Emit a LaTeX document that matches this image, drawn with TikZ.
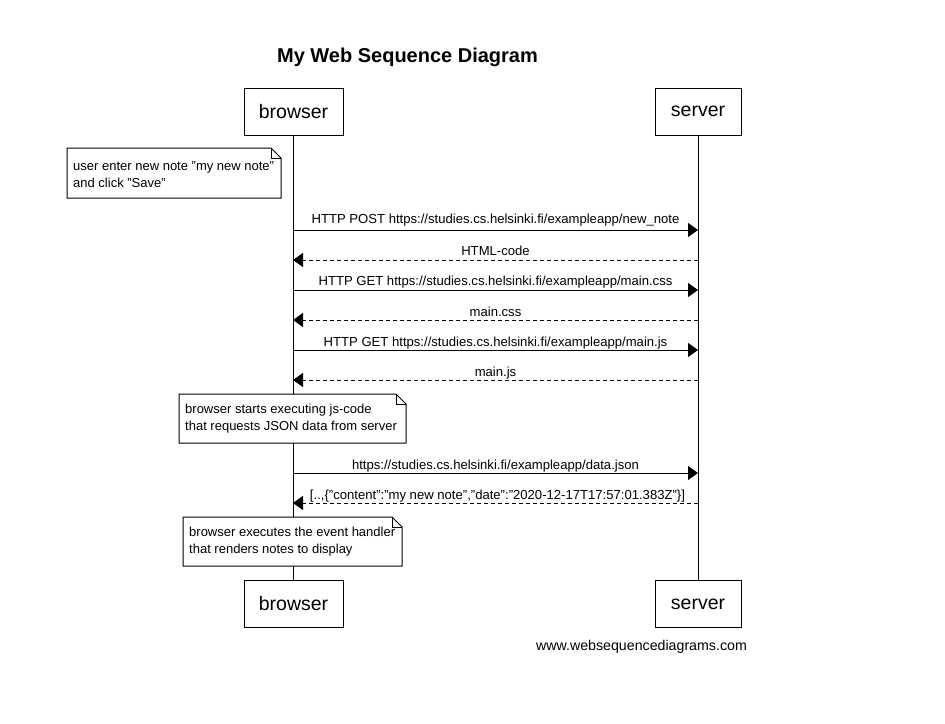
\documentclass[tikz,border=0pt]{standalone}
\usepackage{fontspec}
\setmainfont{Liberation Sans}
\usetikzlibrary{arrows.meta}
\newcommand\qd{\symbol{"22}}
\begin{document}
\begin{tikzpicture}[x=1pt,y=-1pt,
  actor/.style={draw,line width=1pt,minimum height=47pt,font=\fontsize{19.5}{22}\selectfont,inner sep=0pt},
  notebox/.style={inner xsep=6pt,inner ysep=0pt,align=left,anchor=west,font=\fontsize{13}{17}\selectfont},
  msglbl/.style={font=\fontsize{13.1}{15}\selectfont,inner sep=1pt},
  req/.style={line width=1pt,-{Triangle[length=10pt,width=14pt]}},
  resp/.style={line width=1pt,dash pattern=on 4pt off 3pt,-{Triangle[length=10pt,width=14pt]}},
  notepath/.style={draw,line width=1pt,fill=white}]
\useasboundingbox (0,0) rectangle (945,723);
\fill[white] (0,0) rectangle (945,723);

\node[font=\bfseries\fontsize{20}{23}\selectfont] (title) at (407.5,57) {My Web Sequence Diagram};

\node[actor,minimum width=99pt] (bt) at (293.5,111.5) {browser};
\node[actor,minimum width=86pt] (st) at (698,111.5) {server};
\node[actor,minimum width=99pt] (bb) at (293.5,604) {browser};
\node[actor,minimum width=86pt] (sb) at (698,604) {server};

\draw[line width=1pt] (bt.south) -- (bb.north);
\draw[line width=1pt] (st.south) -- (sb.north);

% note 1
\draw[notepath] (67,148) -- (271,148) -- (281,158) -- (281,198) -- (67,198) -- cycle;
\draw[line width=0.8pt] (271,148) -- (271,158) -- (281,158);
\node[notebox] (n1) at (67,175) {user enter new note \qd my new note\qd\\and click \qd Save\qd};

% messages
\foreach \i/\y in {1/230,2/260,3/290,4/320,5/350,6/380,7/473,8/503}{
  \coordinate (b\i) at (293,\y);
  \coordinate (s\i) at (698,\y);
}
\draw[req] (b1) -- (s1);
\node[msglbl] (m1) at (495.5,220) {HTTP POST https://studies.cs.helsinki.fi/exampleapp/new\_note};
\draw[resp] (s2) -- (b2);
\node[msglbl] (m2) at (495.5,251) {HTML-code};
\draw[req] (b3) -- (s3);
\node[msglbl] (m3) at (495.5,282) {HTTP GET https://studies.cs.helsinki.fi/exampleapp/main.css};
\draw[resp] (s4) -- (b4);
\node[msglbl] (m4) at (495.5,312) {main.css};
\draw[req] (b5) -- (s5);
\node[msglbl] (m5) at (495.5,343) {HTTP GET https://studies.cs.helsinki.fi/exampleapp/main.js};
\draw[resp] (s6) -- (b6);
\node[msglbl] (m6) at (495.5,373) {main.js};

% note 2
\draw[notepath] (179,394) -- (396,394) -- (406,404) -- (406,443) -- (179,443) -- cycle;
\draw[line width=0.8pt] (396,394) -- (396,404) -- (406,404);
\node[notebox] (n2) at (179,419) {browser starts executing js-code\\that requests JSON data from server};

\draw[req] (b7) -- (s7);
\node[msglbl] (m7) at (495.5,466) {https://studies.cs.helsinki.fi/exampleapp/data.json};
\draw[resp] (s8) -- (b8);
\node[msglbl] (m8) at (497.5,496) {[..,\{\qd content\qd:\qd my new note\qd,\qd date\qd:\qd 2020-12-17T17:57:01.383Z\qd\}]};

% note 3
\draw[notepath] (183,517) -- (392,517) -- (402,527) -- (402,566) -- (183,566) -- cycle;
\draw[line width=0.8pt] (392,517) -- (392,527) -- (402,527);
\node[notebox] (n3) at (183,542) {browser executes the event handler\\that renders notes to display};

\node[font=\fontsize{14.2}{16}\selectfont] (foot) at (641.5,647) {www.websequencediagrams.com};
\end{tikzpicture}
\end{document}
